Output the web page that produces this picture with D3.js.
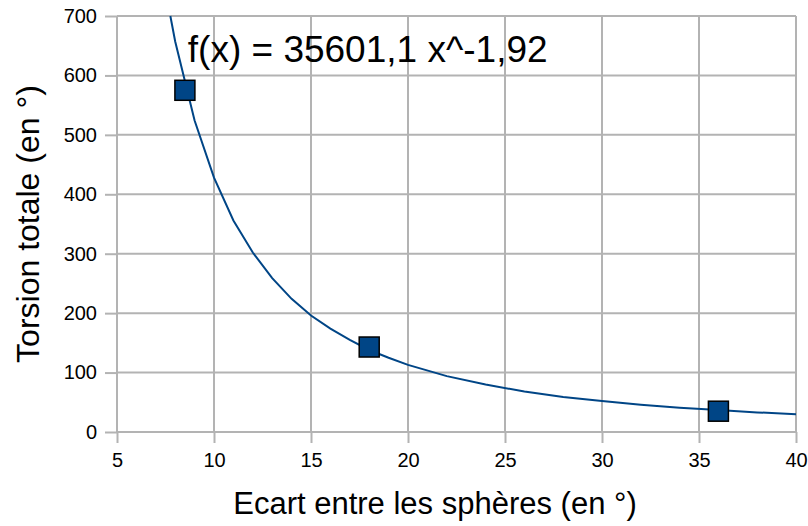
<!DOCTYPE html>
<html>
<head>
<meta charset="utf-8">
<title>Torsion totale</title>
<script src="https://cdn.jsdelivr.net/npm/d3@7"></script>
<style>
  body { margin: 0; background: #fff; }
  text { font-family: "Liberation Sans", Arial, sans-serif; fill: #000; }
  .grid line { stroke: #b3b3b3; stroke-width: 2; }
  .axis path { display: none; }
  .axis line { stroke: #b3b3b3; stroke-width: 2; }
  .axis text { font-size: 20px; }
  .trend { fill: none; stroke: #004586; stroke-width: 2; }
  .pt { fill: #004586; stroke: #000; stroke-width: 1.5; }
</style>
</head>
<body>
<svg id="chart" width="808" height="526"></svg>
<script>
// measured points
var ecart = [8.5, 18, 36];
var torsion = [575, 143, 35];

// trend line
var trendX = [7.75, 8, 9, 10, 11, 12, 13, 14, 15, 16, 17, 18, 19, 20, 22, 24, 26, 28, 30, 32, 34, 36, 38, 40];
var trendY = [700, 657, 524, 428, 356, 302, 259, 224, 196, 174, 155, 138, 125, 113, 94, 80, 68, 59, 52, 46, 41, 37, 33, 30];

var xTicks = [5, 10, 15, 20, 25, 30, 35, 40];
var yTicks = [0, 100, 200, 300, 400, 500, 600, 700];
var equation = "f(x) = 35601,1 x^-1,92";

var svg = d3.select("#chart"),
    margin = {top: 16, right: 12, bottom: 94, left: 117},
    width = +svg.attr("width") - margin.left - margin.right,
    height = +svg.attr("height") - margin.top - margin.bottom;

var x = d3.scaleLinear().domain([5, 40]).range([0, width]);
var y = d3.scaleLinear().domain([0, 700]).range([height, 0]);

var g = svg.append("g")
    .attr("transform", "translate(" + margin.left + "," + margin.top + ")");

// grid
g.append("g").attr("class", "grid")
  .selectAll("line").data(yTicks).enter().append("line")
  .attr("x1", 0).attr("x2", width)
  .attr("y1", function(d){ return y(d); }).attr("y2", function(d){ return y(d); });
g.append("g").attr("class", "grid")
  .selectAll("line").data(xTicks).enter().append("line")
  .attr("y1", 0).attr("y2", height)
  .attr("x1", function(d){ return x(d); }).attr("x2", function(d){ return x(d); });

g.append("g")
  .attr("class", "axis")
  .attr("transform", "translate(0," + height + ")")
  .call(d3.axisBottom(x).tickValues(xTicks).tickSize(11).tickPadding(10).tickFormat(d3.format("d")));

g.append("g")
  .attr("class", "axis")
  .call(d3.axisLeft(y).tickValues(yTicks).tickSize(12).tickPadding(8).tickFormat(d3.format("d")));

// trend
var trend = trendX.map(function(d, i){ return [d, trendY[i]]; });
g.append("path")
  .datum(trend)
  .attr("class", "trend")
  .attr("d", d3.line().x(function(d){ return x(d[0]); }).y(function(d){ return y(d[1]); }));

// points
var sz = 20;
g.selectAll(".pt")
  .data(ecart)
  .enter().append("rect")
  .attr("class", "pt")
  .attr("x", function(d){ return x(d) - sz / 2; })
  .attr("y", function(d, i){ return y(torsion[i]) - sz / 2; })
  .attr("width", sz).attr("height", sz);

// equation
g.append("text")
  .attr("x", x(8.65))
  .attr("y", 46)
  .style("font-size", "37px")
  .text(equation);

// axis titles
svg.append("text")
  .attr("x", 435)
  .attr("y", 514)
  .attr("text-anchor", "middle")
  .style("font-size", "31px")
  .text("Ecart entre les sphères (en °)");

svg.append("text")
  .attr("transform", "translate(39," + (margin.top + height / 2) + ") rotate(-90)")
  .attr("text-anchor", "middle")
  .style("font-size", "32px")
  .text("Torsion totale (en °)");
</script>
</body>
</html>
